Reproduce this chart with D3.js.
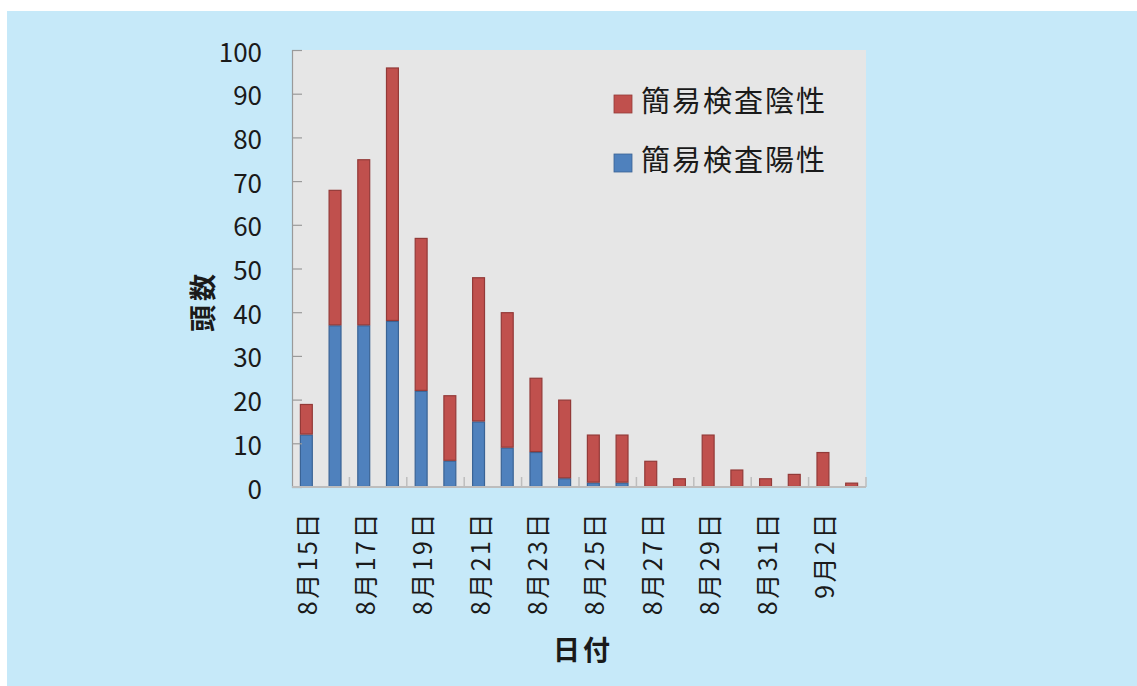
<!DOCTYPE html>
<html>
<head>
<meta charset="utf-8">
<script src="https://cdn.jsdelivr.net/npm/d3@7"></script>
<style>
  html, body { margin: 0; padding: 0; background: #ffffff; }
  svg { display: block; }
  text { font-family: "Noto Sans CJK JP", "Noto Sans", sans-serif; fill: #1a1a1a; }
</style>
</head>
<body>
<svg id="chart" width="1137" height="686"></svg>
<script>
// Daily counts, Aug 15 – Sep 3
const dates = ["8月15日","8月16日","8月17日","8月18日","8月19日","8月20日","8月21日","8月22日","8月23日","8月24日",
               "8月25日","8月26日","8月27日","8月28日","8月29日","8月30日","8月31日","9月1日","9月2日","9月3日"];
const positive = [12, 37, 37, 38, 22, 6, 15, 9, 8, 2, 1, 1, 0, 0, 0, 0, 0, 0, 0, 0];
const negative = [7, 31, 38, 58, 35, 15, 33, 31, 17, 18, 11, 11, 6, 2, 12, 4, 2, 3, 8, 1];
const yTicks = [0, 10, 20, 30, 40, 50, 60, 70, 80, 90, 100];
const seriesNames = ["簡易検査陽性", "簡易検査陰性"];
const colors = { fill: ["#4f81bd", "#c0504d"], stroke: ["#3a6395", "#933a38"] };

const svg = d3.select("#chart");

// Panel background
svg.append("rect").attr("x", 7).attr("y", 11).attr("width", 1130).attr("height", 675).attr("fill", "#c6e9f9");

const plot = { left: 292, top: 50, right: 866, bottom: 487 };

const x = d3.scaleBand().domain(dates).range([plot.left, plot.right]).paddingInner(0.55).paddingOuter(0.275);
const xOuter = d3.scaleBand().domain(dates).range([plot.left, plot.right]);
const y = d3.scaleLinear().domain([0, 100]).range([plot.bottom, plot.top]);

// Plot area
svg.append("rect").attr("x", plot.left).attr("y", plot.top)
  .attr("width", plot.right - plot.left).attr("height", plot.bottom - plot.top).attr("fill", "#e6e6e6");

// Stacked bars
const rows = dates.map((d, i) => ({ date: d, pos: positive[i], neg: negative[i] }));
const stack = d3.stack().keys(["pos", "neg"])(rows);

stack.forEach((layer, li) => {
  svg.append("g").selectAll("rect").data(layer.filter(s => s[1] - s[0] > 0)).join("rect")
    .attr("x", s => x(s.data.date) + 0.5)
    .attr("y", s => y(s[1]) + 0.5)
    .attr("width", x.bandwidth() - 1)
    .attr("height", s => Math.max(0, y(s[0]) - y(s[1]) - 1))
    .attr("fill", colors.fill[li])
    .attr("stroke", colors.stroke[li])
    .attr("stroke-width", 1.2);
});

// Y axis (ticks pointing inward)
const yAxis = d3.axisRight(y).tickValues(yTicks).tickSize(10).tickFormat("");
const yg = svg.append("g").attr("transform", `translate(${plot.left},0)`).call(yAxis);
yg.select(".domain").attr("stroke", "#9a9a9a").attr("stroke-width", 1.2);
yg.selectAll(".tick line").attr("stroke", "#9a9a9a").attr("stroke-width", 1.2);

svg.append("g").selectAll("text").data(yTicks).join("text")
  .attr("x", 262).attr("y", d => y(d))
  .attr("text-anchor", "end").attr("dominant-baseline", "central")
  .attr("font-size", 26).text(d => d);

// X axis: baseline and boundary ticks every two categories
svg.append("line").attr("x1", plot.left).attr("x2", plot.right)
  .attr("y1", plot.bottom).attr("y2", plot.bottom)
  .attr("stroke", "#bdbdbd").attr("stroke-width", 2);

const tickDates = dates.filter((d, i) => i % 2 === 0);
const boundaryIdx = d3.range(2, dates.length + 1, 2);
svg.append("g").selectAll("line").data(boundaryIdx).join("line")
  .attr("x1", i => i < dates.length ? xOuter(dates[i]) : plot.right)
  .attr("x2", i => i < dates.length ? xOuter(dates[i]) : plot.right)
  .attr("y1", plot.bottom).attr("y2", plot.bottom - 10)
  .attr("stroke", "#bdbdbd").attr("stroke-width", 1.5);

svg.append("g").selectAll("text").data(tickDates).join("text")
  .attr("transform", d => `translate(${x(d) + x.bandwidth() / 2},${511}) rotate(-90)`)
  .attr("text-anchor", "end").attr("dominant-baseline", "central")
  .attr("font-size", 25).attr("letter-spacing", 2.5).text(d => d);

// Axis titles
svg.append("text").attr("transform", "translate(201,301) rotate(-90)")
  .attr("text-anchor", "middle").attr("dominant-baseline", "central")
  .attr("font-size", 27).attr("letter-spacing", 4).attr("font-weight", "bold").text("頭数");
svg.append("text").attr("x", 583).attr("y", 648)
  .attr("text-anchor", "middle").attr("dominant-baseline", "central")
  .attr("font-size", 27).attr("letter-spacing", 3).attr("font-weight", "bold").text("日付");

// Legend (negative listed first)
const legendItems = [{ name: seriesNames[1], i: 1 }, { name: seriesNames[0], i: 0 }];
const lg = svg.append("g").selectAll("g").data(legendItems).join("g")
  .attr("transform", (d, k) => `translate(614,${104 + k * 59})`);
lg.append("rect").attr("x", 0).attr("y", -9).attr("width", 18).attr("height", 18)
  .attr("fill", d => colors.fill[d.i]).attr("stroke", d => colors.stroke[d.i]).attr("stroke-width", 0.8);
lg.append("text").attr("x", 27).attr("y", -5).attr("dominant-baseline", "central")
  .attr("font-size", 29).attr("letter-spacing", 2).text(d => d.name);
</script>
</body>
</html>
